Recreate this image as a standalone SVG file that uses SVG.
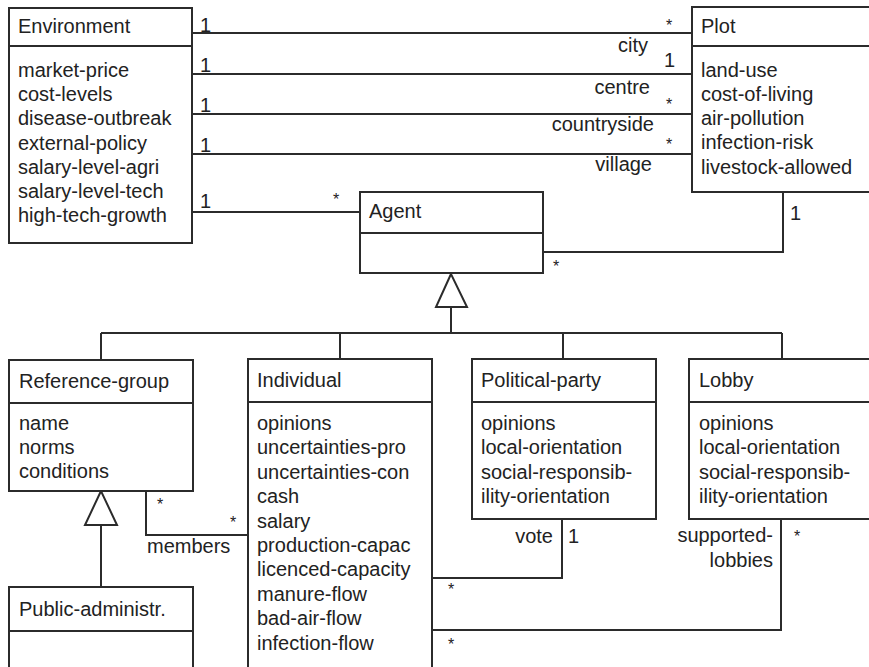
<svg xmlns="http://www.w3.org/2000/svg" width="869" height="667" viewBox="0 0 869 667">
<style>
.box{fill:#fff;stroke:#2b2b2b;stroke-width:2}
.ln{fill:none;stroke:#2b2b2b;stroke-width:2}
.gen{fill:#fff;stroke:#2b2b2b;stroke-width:2}
text{font-family:"Liberation Sans",Arial,sans-serif;font-size:20px;fill:#222}
.st{font-size:16px}
.r{text-anchor:end}
</style>
<rect width="869" height="667" fill="#fff"/>
<g id="connectors">
  <path class="ln" d="M192 33H692M192 74H692M192 114H692M192 154H692M192 212H360"/>
  <path class="ln" d="M783 192V252H543"/>
  <path class="ln" d="M451 307V333M101 333H782M101 333V360M340 333V359M563 333V359M782 333V359"/>
  <polygon class="gen" points="451,274 436,307 467,307"/>
  <path class="ln" d="M101 525V587"/>
  <polygon class="gen" points="101,491 85,525 117,525"/>
  <path class="ln" d="M146 491V535H248"/>
  <path class="ln" d="M562 519V578H432"/>
  <path class="ln" d="M781 519V630H432"/>
  <text x="200" y="32">1</text>
  <text x="200" y="72">1</text>
  <text x="200" y="112">1</text>
  <text x="200" y="152">1</text>
  <text x="200" y="208">1</text>
  <text class="st" x="669" y="31" text-anchor="middle">*</text>
  <text class="r" x="648" y="52">city</text>
  <text x="664" y="67">1</text>
  <text class="r" x="650" y="94">centre</text>
  <text class="st" x="669" y="110" text-anchor="middle">*</text>
  <text class="r" x="654" y="131">countryside</text>
  <text class="st" x="669" y="150" text-anchor="middle">*</text>
  <text class="r" x="652" y="171">village</text>
  <text class="st" x="336" y="205" text-anchor="middle">*</text>
  <text x="790" y="220">1</text>
  <text class="st" x="556" y="272" text-anchor="middle">*</text>
  <text class="st" x="160" y="510" text-anchor="middle">*</text>
  <text class="st" x="233" y="528" text-anchor="middle">*</text>
  <text x="147" y="553">members</text>
  <text class="r" x="553" y="543">vote</text>
  <text x="568" y="543">1</text>
  <text class="st" x="451" y="595" text-anchor="middle">*</text>
  <text class="st" x="451" y="650" text-anchor="middle">*</text>
  <text class="r" x="773" y="542">supported-</text>
  <text class="r" x="773" y="567">lobbies</text>
  <text class="st" x="797" y="542" text-anchor="middle">*</text>
</g>
<g id="environment">
  <rect class="box" x="9" y="8" width="183" height="235"/>
  <path class="ln" d="M9 46H192"/>
  <text x="18" y="33">Environment</text>
  <text x="18" y="77">market-price</text>
  <text x="18" y="101">cost-levels</text>
  <text x="18" y="125">disease-outbreak</text>
  <text x="18" y="150">external-policy</text>
  <text x="18" y="174">salary-level-agri</text>
  <text x="18" y="198">salary-level-tech</text>
  <text x="18" y="222">high-tech-growth</text>
</g>
<g id="plot">
  <rect class="box" x="692" y="7" width="190" height="185"/>
  <path class="ln" d="M692 46H882"/>
  <text x="701" y="33">Plot</text>
  <text x="701" y="77">land-use</text>
  <text x="701" y="101">cost-of-living</text>
  <text x="701" y="125">air-pollution</text>
  <text x="701" y="149">infection-risk</text>
  <text x="701" y="174">livestock-allowed</text>
</g>
<g id="agent">
  <rect class="box" x="360" y="192" width="183" height="81"/>
  <path class="ln" d="M360 233H543"/>
  <text x="369" y="218">Agent</text>
</g>
<g id="reference-group">
  <rect class="box" x="9" y="360" width="184" height="131"/>
  <path class="ln" d="M9 403H193"/>
  <text x="19" y="388">Reference-group</text>
  <text x="19" y="430">name</text>
  <text x="19" y="454">norms</text>
  <text x="19" y="478">conditions</text>
</g>
<g id="public-administr">
  <rect class="box" x="9" y="587" width="184" height="100"/>
  <path class="ln" d="M9 631H193"/>
  <text x="19" y="616">Public-administr.</text>
</g>
<g id="individual">
  <rect class="box" x="248" y="359" width="184" height="330"/>
  <path class="ln" d="M248 402H432"/>
  <text x="257" y="387">Individual</text>
  <text x="257" y="430">opinions</text>
  <text x="257" y="454">uncertainties-pro</text>
  <text x="257" y="479">uncertainties-con</text>
  <text x="257" y="503">cash</text>
  <text x="257" y="528">salary</text>
  <text x="257" y="552">production-capac</text>
  <text x="257" y="576">licenced-capacity</text>
  <text x="257" y="601">manure-flow</text>
  <text x="257" y="625">bad-air-flow</text>
  <text x="257" y="650">infection-flow</text>
</g>
<g id="political-party">
  <rect class="box" x="472" y="359" width="184" height="160"/>
  <path class="ln" d="M472 402H656"/>
  <text x="481" y="387">Political-party</text>
  <text x="481" y="430">opinions</text>
  <text x="481" y="454">local-orientation</text>
  <text x="481" y="479">social-responsib-</text>
  <text x="481" y="503">ility-orientation</text>
</g>
<g id="lobby">
  <rect class="box" x="689" y="359" width="193" height="160"/>
  <path class="ln" d="M689 402H882"/>
  <text x="699" y="387">Lobby</text>
  <text x="699" y="430">opinions</text>
  <text x="699" y="454">local-orientation</text>
  <text x="699" y="479">social-responsib-</text>
  <text x="699" y="503">ility-orientation</text>
</g>
</svg>
